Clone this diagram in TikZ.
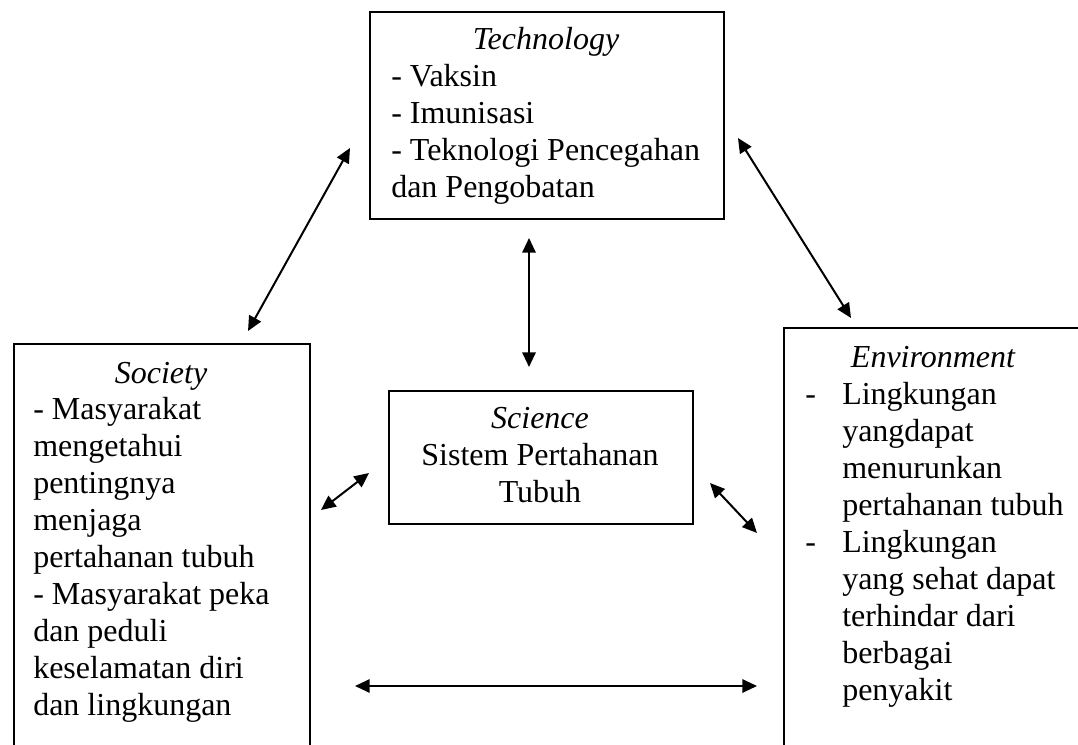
\documentclass[tikz,border=0pt]{standalone}
\usepackage{fontspec}
\setmainfont{Liberation Serif}
\usetikzlibrary{arrows.meta}
\begin{document}
\begin{tikzpicture}[x=0.75pt, y=-0.75pt,
  box/.style={draw, line width=1.2pt, inner sep=0pt, anchor=north west},
  txt/.style={inner sep=0pt, font=\fontsize{24}{27.75}\selectfont},
  lft/.style={txt, anchor=base west},
  ctr/.style={txt, anchor=base},
  link/.style={line width=1.5pt, {Triangle[length=11pt, width=10pt]}-{Triangle[length=11pt, width=10pt]}}]
\useasboundingbox (0,0) rectangle (1078,745);
\clip (0,0) rectangle (1078,745);

% boxes
\node[box, minimum width=265.5pt, minimum height=155.25pt] (tech) at (369,11) {};
\node[box, minimum width=222pt, minimum height=310pt] (soc) at (13,343) {};
\node[box, minimum width=225pt, minimum height=330pt] (env) at (783,327) {};
\node[box, minimum width=228pt, minimum height=99.75pt] (sci) at (388,390) {};

% Technology
\node[ctr] (techT) at (546,50) {\itshape Technology};
\foreach \t [count=\i] in {- Vaksin, - Imunisasi, - Teknologi Pencegahan, dan Pengobatan}
  \node[lft] (tech\i) at (391,50+37*\i) {\t};

% Society
\node[ctr] (socT) at (161,383) {\itshape Society};
\foreach \t [count=\i] in {- Masyarakat, mengetahui, pentingnya, menjaga,
    pertahanan tubuh, - Masyarakat peka, dan peduli, keselamatan diri, dan lingkungan}
  \node[lft] (soc\i) at (33,382+37*\i) {\t};

% Environment
\node[ctr] (envT) at (933,367) {\itshape Environment};
\node[lft] (envd1) at (805,404) {-};
\node[lft] (envd2) at (805,552) {-};
\foreach \t [count=\i] in {Lingkungan, yangdapat, menurunkan, pertahanan tubuh,
    Lingkungan, yang sehat dapat, terhindar dari, berbagai, penyakit}
  \node[lft] (env\i) at (842,367+37*\i) {\t};

% Science
\node[ctr] (sciT) at (540,428) {\itshape Science};
\node[ctr] (sci1) at (540,465) {Sistem Pertahanan};
\node[ctr] (sci2) at (540,502) {Tubuh};

% arrow ends
\coordinate (ts1) at (350,148); \coordinate (ts2) at (248,331);
\coordinate (te1) at (738,138); \coordinate (te2) at (851,318);
\coordinate (tc1) at (529,238); \coordinate (tc2) at (529,367);
\coordinate (sc1) at (321,510); \coordinate (sc2) at (369,473);
\coordinate (ce1) at (710,483); \coordinate (ce2) at (757,533);
\coordinate (se1) at (355,686); \coordinate (se2) at (757,686);

\draw[link] (ts1) -- (ts2);
\draw[link] (te1) -- (te2);
\draw[link] (tc1) -- (tc2);
\draw[link] (sc1) -- (sc2);
\draw[link] (ce1) -- (ce2);
\draw[link] (se1) -- (se2);
\end{tikzpicture}
\end{document}
